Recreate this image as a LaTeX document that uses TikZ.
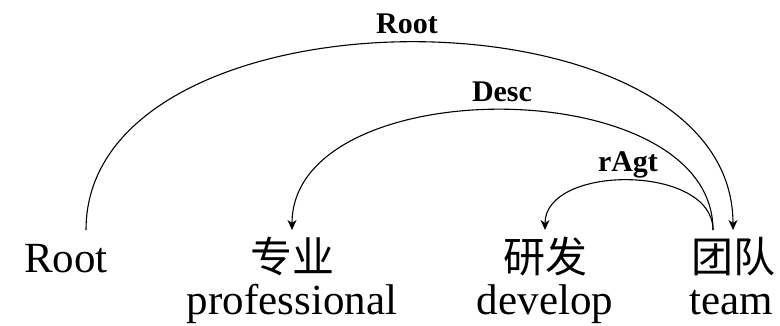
\documentclass[tikz,border=0pt]{standalone}
\usepackage{fontspec}
\setmainfont{Liberation Serif}
\newfontfamily\cjk{Noto Sans CJK SC}
\usetikzlibrary{arrows.meta}

\tikzset{
  word/.style={inner sep=0pt, anchor=base, font=\fontsize{43}{48}\selectfont},
  hanzi/.style={inner sep=0pt, anchor=base, font=\cjk\fontsize{42}{48}\selectfont},
  rel/.style={inner sep=0pt, anchor=base, font=\bfseries\fontsize{30}{34}\selectfont},
  dep/.style={line width=1.1pt, -{Stealth[length=10pt,width=9pt,inset=3pt]}},
}

\begin{document}
\begin{tikzpicture}[x=1pt, y=-1pt]
  \useasboundingbox (0,0) rectangle (780,325);

  % tokens: Chinese word above its English gloss
  \node[word]  (root)  at (66,272)  {Root};
  \node[hanzi] (zy)    at (292,272) {专业};
  \node[word]  (prof)  at (292,314) {professional};
  \node[hanzi] (yf)    at (545,272) {研发};
  \node[word]  (dev)   at (545,314) {develop};
  \node[hanzi] (td)    at (733,272) {团队};
  \node[word]  (team)  at (731,314) {team};

  % attachment points of the arcs
  \coordinate (rootOut) at (86,230);
  \coordinate (tdIn)    at (733,230);
  \coordinate (tdOut)   at (713,230);
  \coordinate (zyIn)    at (292,230);
  \coordinate (yfIn)    at (545,230);

  % dependency arcs
  \draw[dep] (rootOut) .. controls +(0,-250) and +(0,-250) .. (tdIn)
    coordinate[pos=0.5] (rootTop);
  \draw[dep] (tdOut) .. controls +(0,-160) and +(0,-160) .. (zyIn)
    coordinate[pos=0.5] (descTop);
  \draw[dep] (tdOut) .. controls +(0,-66) and +(0,-66) .. (yfIn)
    coordinate[pos=0.5] (ragtTop);

  % relation labels
  \node[rel] (lroot) at (407,33)  {Root};
  \node[rel] (ldesc) at (502,101) {Desc};
  \node[rel] (lragt) at (628,171) {rAgt};
\end{tikzpicture}
\end{document}
